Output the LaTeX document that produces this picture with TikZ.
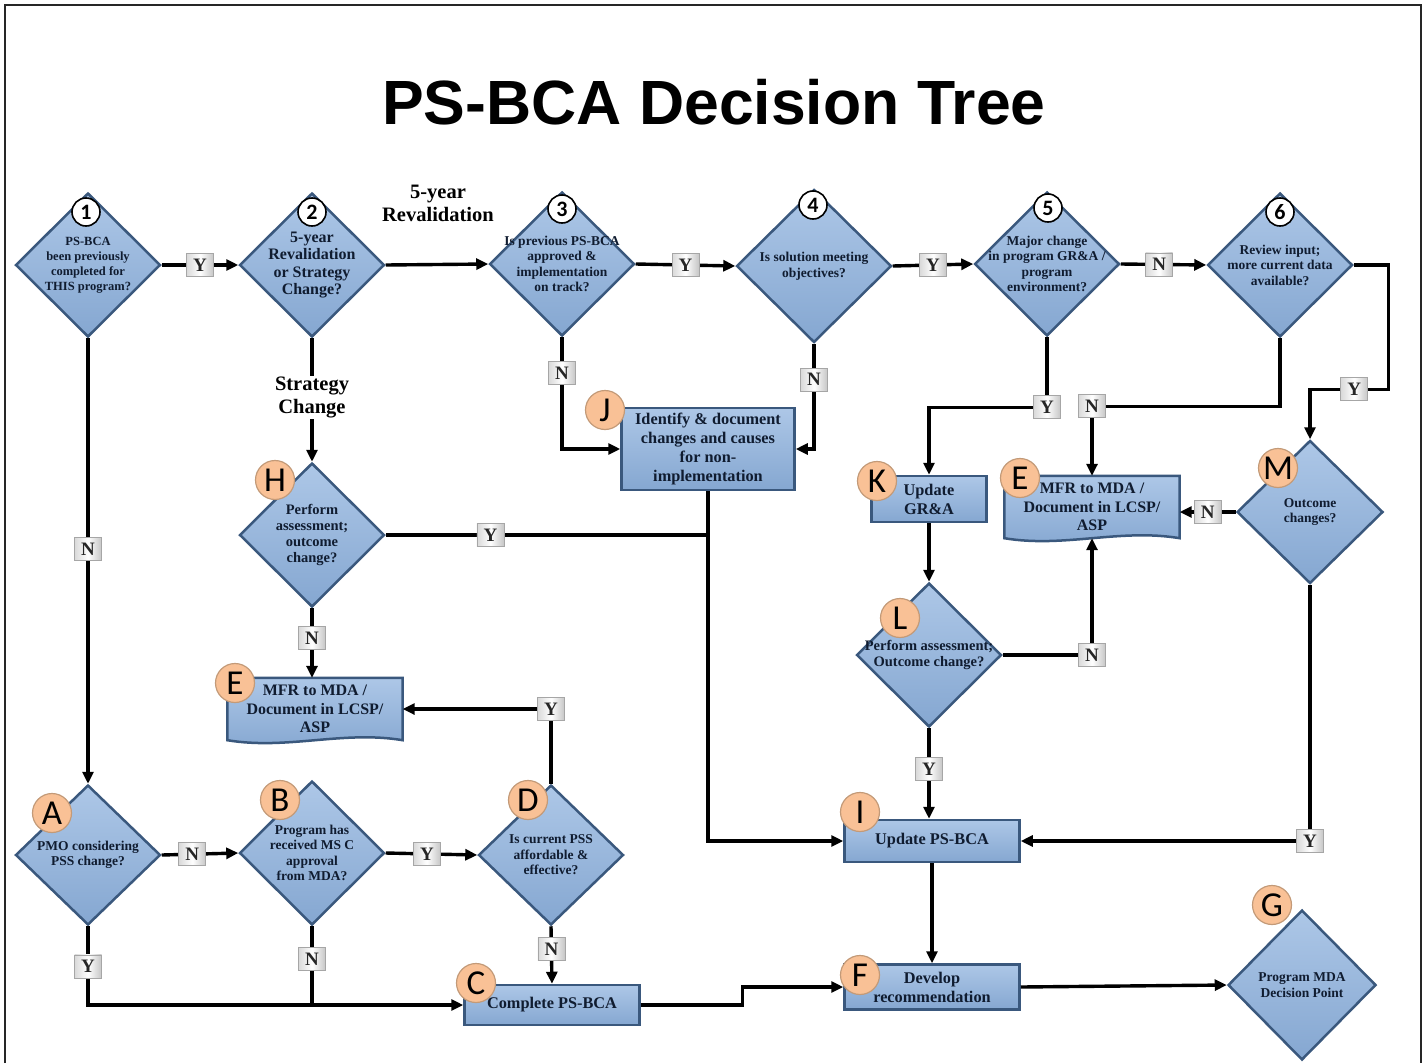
\documentclass[tikz,border=0pt]{standalone}
\usepackage{fontspec}
\setmainfont{Liberation Serif}
\newfontfamily\titlefont{Liberation Sans}
\newfontfamily\carlito{Carlito}
\usetikzlibrary{shapes.geometric,arrows.meta,backgrounds}

\definecolor{shapetop}{HTML}{ADC7E7}
\definecolor{shapebot}{HTML}{85A7D1}
\definecolor{shapeedge}{HTML}{3A587D}
\definecolor{shapetext}{HTML}{101C30}
\definecolor{letterfill}{HTML}{F9C196}
\definecolor{letteredge}{HTML}{C39A78}

\tikzset{
  diam/.style={diamond, draw=shapeedge, line width=2.5pt, top color=shapetop, bottom color=shapebot,
    minimum width=145pt, minimum height=144pt, inner sep=0pt},
  diatext/.style={align=center, text=shapetext, inner sep=0pt, font=\bfseries\fontsize{13.5}{15.5}\selectfont},
  procbox/.style={rectangle, draw=shapeedge, line width=2.5pt, top color=shapetop, bottom color=shapebot,
    align=center, text=shapetext, inner sep=0pt, font=\bfseries\fontsize{16.3}{19}\selectfont},
  docbox/.style={rectangle, align=center, text=shapetext, inner sep=0pt,
    minimum width=175pt, minimum height=62pt, font=\bfseries\fontsize{16}{18.5}\selectfont},
  docshape/.style={draw=shapeedge, line width=2.5pt, top color=shapetop, bottom color=shapebot},
  numc/.style={circle, fill=white, draw=black, line width=1.6pt, minimum size=28pt, inner sep=0pt,
    font=\carlito\bfseries\fontsize{22}{22}\selectfont},
  letc/.style={circle, fill=letterfill, draw=letteredge, line width=1.2pt, minimum size=39pt, inner sep=0pt,
    font=\carlito\fontsize{35}{35}\selectfont},
  yn/.style={rectangle, draw=gray!70, line width=0.8pt, left color=gray!30, right color=gray!45, middle color=white,
    minimum width=27pt, minimum height=23pt, inner sep=0pt, text=black!85, font=\bfseries\fontsize{19}{19}\selectfont},
  conn/.style={line width=3.4pt, -{Triangle[length=12pt,width=11pt]}},
  link/.style={line width=3.4pt},
  lbl/.style={align=center, inner sep=1pt, font=\bfseries\fontsize{20.5}{23}\selectfont}
}

\begin{document}
\begin{tikzpicture}[x=1pt,y=-1pt]
  \useasboundingbox (0,0) rectangle (1424,1063);

  %% Frame and title
  \draw[line width=2.5pt, black!85] (5,1063) -- (5,5) -- (1421,5) -- (1421,1063);
  \node[font=\titlefont\bfseries\fontsize{62.5}{62.5}\selectfont] (title) at (714,102) {PS-BCA Decision Tree};

  %% Top row
  \node[diam, label={[diatext, font=\bfseries\fontsize{12.5}{15}\selectfont]center:{PS-BCA\\been previously\\completed for\\THIS program?}}] (d1) at (88,265) {};
  \node[diam, label={[diatext, font=\bfseries\fontsize{16}{17.5}\selectfont]center:{5-year\\Revalidation\\or Strategy\\Change?}}] (d2) at (312,265) {};
  \node[diam, label={[diatext]center:{Is previous PS-BCA\\approved \&\\implementation\\on track?}}] (d3) at (562,264) {};
  \node[diam, minimum width=155pt, minimum height=153pt, label={[diatext]center:{Is solution meeting\\objectives?}}] (d4) at (814,266) {};
  \node[diam, label={[diatext]center:{Major change\\in program GR\&A /\\program\\environment?}}] (d5) at (1047,264) {};
  \node[diam, label={[diatext]center:{Review input;\\more current data\\available?}}] (d6) at (1280,265) {};

  \node[numc] (n1) at (86,212) {1};
  \node[numc] (n2) at (312,212) {2};
  \node[numc] (n3) at (562,209) {3};
  \node[numc] (n4) at (813,205) {4};
  \node[numc] (n5) at (1048,208) {5};
  \node[numc] (n6) at (1280,212) {6};

  %% Middle shapes
  \node[diam, label={[diatext, font=\bfseries\fontsize{14.5}{16}\selectfont]center:{Perform\\assessment;\\outcome\\change?}}] (H) at (312,535) {};
  \node[procbox, minimum width=173pt, minimum height=82pt] (J) at (708,449) {Identify \& document\\changes and causes\\for non-\\implementation};
  \node[procbox, minimum width=115pt, minimum height=46pt] (K) at (929,499) {Update\\GR\&A};
  \node[docbox] (E2) at (1092,507) {MFR to MDA /\\Document in LCSP/\\ASP};
  \node[diam, minimum width=146pt, minimum height=143pt, label={[diatext]center:{Outcome\\changes?}}] (M) at (1310,512) {};
  \node[diam, label={[diatext, font=\bfseries\fontsize{14.5}{16}\selectfont]center:{Perform assessment;\\Outcome change?}}] (L) at (929,655) {};
  \node[docbox] (E1) at (315,709) {MFR to MDA /\\Document in LCSP/\\ASP};

  %% Bottom shapes
  \node[diam, minimum height=140pt, label={[diatext]center:{PMO considering\\PSS change?}}] (A) at (88,855) {};
  \node[diam, label={[diatext]center:{Program has\\received MS C\\approval\\from MDA?}}] (B) at (312,853) {};
  \node[diam, minimum height=140pt, label={[diatext]center:{Is current PSS\\affordable \&\\effective?}}] (D) at (551,855) {};
  \node[procbox, minimum width=175pt, minimum height=42pt] (I) at (932,841) {Update PS-BCA};
  \node[procbox, minimum width=175pt, minimum height=45pt] (F) at (932,987) {Develop\\recommendation};
  \node[procbox, minimum width=175pt, minimum height=40pt] (C) at (552,1005) {Complete PS-BCA};
  \node[diam, minimum width=148pt, minimum height=150pt, label={[diatext]center:{Program MDA\\Decision Point}}] (G) at (1302,985) {};

  %% Document outlines
  \begin{scope}[on background layer]
    \path[docshape] (E1.north west) -- (E1.north east) -- (E1.south east) .. controls +(-60,-10) and +(60,10) .. (E1.south west) -- cycle;
    \path[docshape] (E2.north west) -- (E2.north east) -- (E2.south east) .. controls +(-60,-10) and +(60,10) .. (E2.south west) -- cycle;
  \end{scope}

  %% Letters
  \node[letc] (lH) at (275,480) {H};
  \node[letc] (lJ) at (605,410) {J};
  \node[letc] (lK) at (877,481) {K};
  \node[letc] (lE2) at (1020,478) {E};
  \node[letc] (lM) at (1278,468) {M};
  \node[letc] (lL) at (900,618) {L};
  \node[letc] (lE1) at (235,683) {E};
  \node[letc] (lA) at (52,813) {A};
  \node[letc] (lB) at (280,800) {B};
  \node[letc] (lD) at (528,800) {D};
  \node[letc] (lI) at (860,812) {I};
  \node[letc] (lC) at (476,983) {C};
  \node[letc] (lF) at (860,975) {F};
  \node[letc] (lG) at (1272,905) {G};

  %% Top row connectors
  \draw[conn] (d1.east) -- node[yn]{Y} (d2.west);
  \draw[conn] (d2.east) -- (d3.west);
  \node[lbl] (reval) at (438,203) {5-year\\Revalidation};
  \draw[conn] (d3.east) -- node[yn]{Y} (d4.west);
  \draw[conn] (d4.east) -- node[yn]{Y} (d5.west);
  \draw[conn] (d5.east) -- node[yn,pos=0.45]{N} (d6.west);
  \draw[conn] (d6.east) -- ++(35,0) |- node[yn,pos=0.72]{Y} ([yshift=50pt]M.north) -- (M.north);
  \draw[conn] (d6.south) -- ++(0,68) -| node[yn,pos=0.5]{N} (E2.north);
  \draw[conn] (d5.south) -- node[yn,pos=1]{Y} ++(0,70) -| (K.north);
  \draw[conn] (d2.south) -- node[lbl,fill=white,pos=0.48] (strat) {Strategy\\Change} (H.north);
  \draw[conn] (d3.south) |- node[yn,pos=0.16]{N} (J.west);
  \draw[conn] (d4.south) |- node[yn,pos=0.17]{N} (J.east);

  %% Middle connectors
  \draw[conn] (M.west) -- node[yn]{N} (M.west -| E2.east);
  \draw[conn] (K.south) -- (L.north);
  \draw[conn] (L.east) -| node[yn,pos=0.5]{N} (E2.south);
  \draw[conn] (L.south) -- node[yn,pos=0.45]{Y} (L.south |- I.north);
  \draw[conn] (M.south) |- node[yn,pos=0.5]{Y} (I.east);
  \draw[conn] (J.south) |- (I.west);
  \draw[link] (H.east) -- node[yn,pos=0.325]{Y} (H.east -| J.south);
  \draw[conn] (H.south) -- node[yn,pos=0.43]{N} (H.south |- E1.north);

  %% Bottom connectors
  \draw[conn] (d1.south) -- node[yn,pos=0.473]{N} (A.north);
  \draw[conn] (A.east) -- node[yn,pos=0.4]{N} (B.west);
  \draw[conn] (B.east) -- node[yn,pos=0.45]{Y} (D.west);
  \draw[conn] (D.north) |- node[yn,pos=0.5]{Y} (E1.east);
  \draw[conn] (D.south) -- node[yn,pos=0.4]{N} (C.north);
  \draw[conn] (A.south) -- node[yn,pos=0.51]{Y} (A.south |- C.west) -- (C.west);
  \draw[link] (B.south) -- node[yn,pos=0.42]{N} (B.south |- C.west);
  \draw[conn] (I.south) -- (F.north);
  \draw[conn] (C.east) -- ++(102,0) |- (F.west);
  \draw[conn] (F.east) -- (G.west);

\end{tikzpicture}
\end{document}
